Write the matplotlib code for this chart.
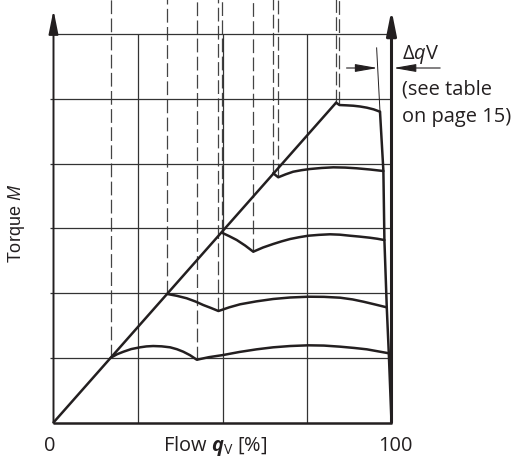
import matplotlib
matplotlib.use('Agg')
import matplotlib.pyplot as plt

# torque curves: flow q [%] / torque M [grid units]
curve1_q = [16.9, 18.8, 20.7, 23.0, 25.6, 27.5, 29.5, 32.0, 34.5, 36.5, 38.4, 40.4, 42.4,
            46.0, 50.2, 55.0, 60.1, 65.0, 70.0, 75.4, 80.0, 84.8, 89.0, 92.7, 96.0, 99.2]
curve1_m = [1.00, 1.055, 1.094, 1.135, 1.162, 1.176, 1.182, 1.177, 1.162, 1.133, 1.094, 1.04, 0.97,
            1.01, 1.043, 1.09, 1.131, 1.162, 1.182, 1.193, 1.189, 1.172, 1.152, 1.131, 1.10, 1.07]

curve2_q = [33.7, 36.5, 39.4, 42.0, 44.3, 46.6, 48.8, 52.0, 55.2, 60.0, 65.0, 70.0, 75.4,
            80.0, 84.8, 88.5, 91.7, 95.0, 98.6]
curve2_m = [1.986, 1.958, 1.92, 1.87, 1.816, 1.77, 1.723, 1.78, 1.827, 1.872, 1.909, 1.932, 1.944,
            1.942, 1.929, 1.902, 1.867, 1.826, 1.78]

curve3_q = [49.8, 52.0, 54.2, 56.7, 59.1, 62.0, 65.0, 67.5, 70.0, 72.7, 75.4, 78.5, 81.8,
            84.7, 87.7, 90.6, 93.6, 95.8, 97.9]
curve3_m = [2.934, 2.88, 2.821, 2.735, 2.64, 2.705, 2.759, 2.80, 2.836, 2.864, 2.887, 2.90, 2.909,
            2.903, 2.887, 2.873, 2.856, 2.84, 2.82]

curve4_q = [65.0, 66.5, 68.7, 70.9, 73.4, 75.9, 79.3, 82.8, 86.3, 89.7, 93.7, 97.6]
curve4_m = [3.852, 3.79, 3.836, 3.876, 3.90, 3.918, 3.934, 3.944, 3.94, 3.929, 3.91, 3.887]

curve5_q = [83.6, 84.6, 86.7, 88.7, 90.7, 92.7, 94.7, 96.6]
curve5_m = [4.943, 4.907, 4.902, 4.896, 4.884, 4.866, 4.84, 4.804]

# straight start line and the right hand limit
diag_q = [0.0, 83.6]
diag_m = [0.0, 4.943]
limit_q = [96.6, 97.6, 97.9, 98.6, 99.2, 100.0]
limit_m = [4.80, 3.89, 2.82, 1.78, 1.07, 0.0]
ext_q = [96.6, 95.6]
ext_m = [4.80, 5.79]

# dashed guide lines: flow position and where they end on the curve
guide_q = [16.9, 33.7, 42.4, 48.8, 49.8, 59.1, 65.0, 66.5, 83.6, 84.6]
guide_m = [1.00, 1.986, 0.97, 1.723, 2.934, 2.64, 3.852, 3.79, 4.943, 4.907]

flow_grid = [25, 50, 75]
torque_grid = [1, 2, 3, 4, 5, 6]

# layout in pixels
W, H, DPI = 521, 458, 100
X0, Y0 = 53.5, 422.5      # pixel of the origin
SX, SY = 3.38, 64.7       # pixels per unit

INK = '#231f20'
GRID = '#333333'
FONT = 'Open Sans'

plt.rcParams['font.family'] = [FONT, 'DejaVu Sans']
plt.rcParams['mathtext.fontset'] = 'custom'
plt.rcParams['mathtext.rm'] = FONT
plt.rcParams['mathtext.it'] = FONT + ':italic'
plt.rcParams['mathtext.bf'] = FONT + ':bold:italic'

fig = plt.figure(figsize=(W / DPI, H / DPI), dpi=DPI)
ax = fig.add_axes([0, 0, 1, 1])
ax.set_xlim(-X0 / SX, (W - X0) / SX)
ax.set_ylim(-(H - Y0) / SY, Y0 / SY)
ax.axis('off')
top = Y0 / SY + 0.1
tip = (Y0 - 10) / SY

# grid
ax.hlines(torque_grid, -1.0, 100, colors=GRID, lw=0.9, zorder=2)
ax.vlines(flow_grid, 0, 6, colors=GRID, lw=0.9, zorder=2)

# dashed guides
ax.vlines(guide_q, guide_m, top, colors='#444444', lw=0.9,
          linestyles=[(0, (11, 3.5))], zorder=1)

# axes
def axis_arrow(x, lw):
    ax.annotate('', xy=(x, tip), xytext=(x, 0),
                arrowprops=dict(arrowstyle='-|>,head_length=1.44,head_width=0.29',
                                mutation_scale=10, lw=lw, color=INK,
                                shrinkA=0, shrinkB=0), zorder=5)

axis_arrow(0, 1.4)
axis_arrow(100, 2.2)
ax.plot([0, 100], [0, 0], color=INK, lw=1.8, solid_capstyle='butt', zorder=5)

# curves
kw = dict(color=INK, lw=1.8, solid_joinstyle='round', solid_capstyle='round', zorder=4)
ax.plot(diag_q, diag_m, **kw)
for q, m in [(curve1_q, curve1_m), (curve2_q, curve2_m), (curve3_q, curve3_m),
             (curve4_q, curve4_m), (curve5_q, curve5_m)]:
    ax.plot(q, m, **kw)
ax.plot(limit_q, limit_m, **kw)
ax.plot(ext_q, ext_m, color=INK, lw=0.7, zorder=4)

# delta qV dimension
dim_y = (Y0 - 68) / SY
ax.annotate('', xy=(95.9, dim_y), xytext=(86.7, dim_y),
            arrowprops=dict(arrowstyle='-|>,head_length=1.37,head_width=0.24',
                            mutation_scale=10, lw=0.8, color=INK,
                            shrinkA=0, shrinkB=0))
ax.annotate('', xy=(100.6, dim_y), xytext=(114.4, dim_y),
            arrowprops=dict(arrowstyle='-|>,head_length=1.37,head_width=0.24',
                            mutation_scale=10, lw=0.8, color=INK,
                            shrinkA=0, shrinkB=0))

# labels
fs = 14.4
base = (Y0 - 451) / SY
ax.text(-1.18, base, '0', ha='center', va='baseline', fontsize=fs, color=INK)
ax.text(32.4, base, r'Flow $\mathbf{q}_{\mathrm{V}}$ [%]', ha='left', va='baseline',
        fontsize=fs, color=INK)
ax.text(101.2, base, '100', ha='center', va='baseline', fontsize=fs, color=INK)
ax.text(-10.8, 3.07, r'Torque $M$', rotation=90, ha='center', va='center',
        fontsize=13, color=INK, family=['Liberation Sans', 'DejaVu Sans'])
ax.text(103.0, (Y0 - 58.5) / SY, r'Δ$q$V', ha='left', va='baseline', fontsize=fs, color=INK)
ax.text(103.0, (Y0 - 95) / SY, '(see table', ha='left', va='baseline', fontsize=fs, color=INK)
ax.text(103.0, (Y0 - 121.7) / SY, 'on page 15)', ha='left', va='baseline', fontsize=fs, color=INK)

fig.savefig('out.png', dpi=DPI)
